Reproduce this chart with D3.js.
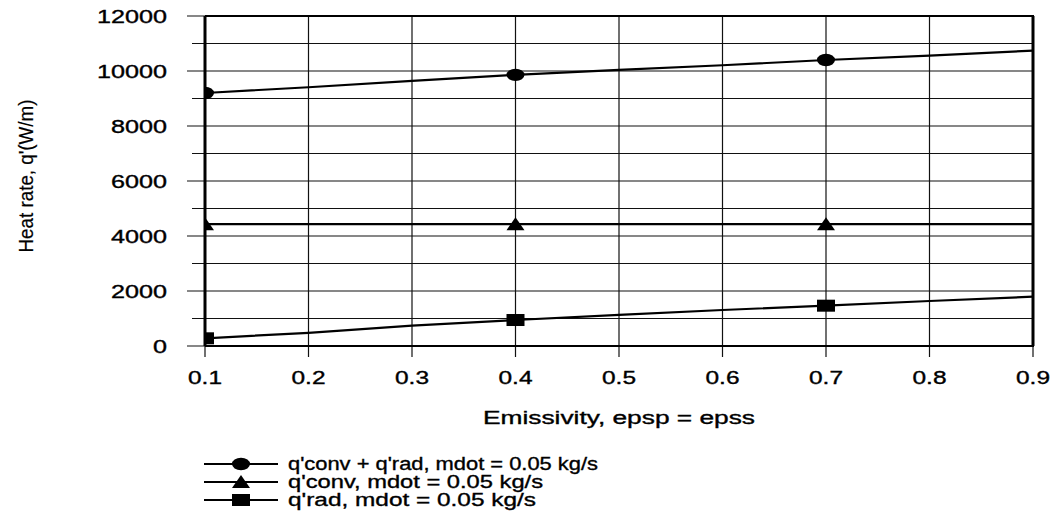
<!DOCTYPE html>
<html><head><meta charset="utf-8">
<script src="https://cdn.jsdelivr.net/npm/d3@7"></script>
<style>body{margin:0;background:#fff}svg{display:block}text{font-family:"Liberation Sans",Arial,sans-serif;fill:#000;stroke:#000;stroke-width:0.35px}</style>
</head><body><div id="chart"></div>
<script>
const xValues = [0.1,0.2,0.3,0.4,0.5,0.6,0.7,0.8,0.9];
const markerX = [0.1,0.4,0.7];
const seriesNames = ["q'conv + q'rad, mdot = 0.05 kg/s","q'conv, mdot = 0.05 kg/s","q'rad, mdot = 0.05 kg/s"];
const qTotal = [9200,9410,9640,9860,10040,10210,10400,10560,10740];
const qConv  = [4430,4430,4430,4430,4430,4430,4430,4430,4430];
const qRad   = [280,480,740,945,1130,1310,1466,1636,1793];
const xTicks = [0.1,0.2,0.3,0.4,0.5,0.6,0.7,0.8,0.9];
const yTicks = [0,2000,4000,6000,8000,10000,12000];
const yMinor = [1000,3000,5000,7000,9000,11000];
const shapes = ["circle","triangle","square"];

const W=1057,H=515;
const L=205,R=1033,T=16,B=346;
const svg=d3.select("#chart").append("svg").attr("width",W).attr("height",H);
const x=d3.scaleLinear().domain([0.1,0.9]).range([L,R]);
const y=d3.scaleLinear().domain([0,12000]).range([B,T]);

svg.append("clipPath").attr("id","clip").append("rect").attr("x",L).attr("y",T-10).attr("width",R-L).attr("height",B-T+10);

// grid + ticks
const g=svg.append("g");
g.selectAll(".hg").data(yTicks).join("line").attr("x1",L-18).attr("x2",R).attr("y1",d=>y(d)).attr("y2",d=>y(d)).attr("stroke","#111").attr("stroke-width",1.2);
g.selectAll(".hm").data(yMinor).join("line").attr("x1",L-13).attr("x2",R).attr("y1",d=>y(d)).attr("y2",d=>y(d)).attr("stroke","#111").attr("stroke-width",1.2);
g.selectAll(".vg").data(xTicks).join("line").attr("x1",d=>x(d)).attr("x2",d=>x(d)).attr("y1",T).attr("y2",B+11).attr("stroke","#111").attr("stroke-width",1.2);
// frame
g.append("line").attr("x1",L).attr("x2",R+1).attr("y1",T).attr("y2",T).attr("stroke","#000").attr("stroke-width",2.2);
g.append("line").attr("x1",L).attr("x2",R+1).attr("y1",B).attr("y2",B).attr("stroke","#000").attr("stroke-width",2);
g.append("line").attr("x1",L).attr("x2",L).attr("y1",T).attr("y2",B).attr("stroke","#000").attr("stroke-width",3);
g.append("line").attr("x1",R).attr("x2",R).attr("y1",T).attr("y2",B).attr("stroke","#000").attr("stroke-width",3);

// tick labels
svg.selectAll(".yl").data(yTicks).join("text").attr("x",167).attr("y",d=>y(d)+6.5).attr("text-anchor","end")
  .attr("font-size",18).attr("textLength",d=>String(d).length*14).attr("lengthAdjust","spacingAndGlyphs").text(d=>d);
svg.selectAll(".xl").data(xTicks).join("text").attr("x",d=>x(d)).attr("y",383.5).attr("text-anchor","middle")
  .attr("font-size",18).attr("textLength",34).attr("lengthAdjust","spacingAndGlyphs").text(d=>d.toFixed(1));

// titles
svg.append("text").attr("transform","translate(33,176) rotate(-90)").attr("text-anchor","middle").attr("font-size",20)
  .attr("textLength",153).attr("lengthAdjust","spacingAndGlyphs").style("stroke-width","0.2px").text("Heat rate, q'(W/m)");
svg.append("text").attr("x",619).attr("y",423.5).attr("text-anchor","middle").attr("font-size",18)
  .attr("textLength",272).attr("lengthAdjust","spacingAndGlyphs").text("Emissivity, epsp = epss");

// marker drawing
function marker(sel,shape,cx,cy){
  if(shape==="circle") sel.append("ellipse").attr("cx",cx).attr("cy",cy).attr("rx",9).attr("ry",6.2).attr("fill","#000");
  else if(shape==="triangle") sel.append("path").attr("d",`M${cx-9},${cy+6}L${cx+9},${cy+6}L${cx},${cy-7}Z`).attr("fill","#000");
  else sel.append("rect").attr("x",cx-9).attr("y",cy-6).attr("width",18).attr("height",12).attr("fill","#000");
}

const series=[qTotal,qConv,qRad];
const line=d3.line().x((d,i)=>x(xValues[i])).y(d=>y(d));
const pg=svg.append("g").attr("clip-path","url(#clip)");
series.forEach((s,k)=>{
  pg.append("path").attr("d",line(s)).attr("fill","none").attr("stroke","#000").attr("stroke-width",2.2);
  markerX.forEach(mx=>{const i=xValues.indexOf(mx); marker(pg,shapes[k],x(mx),y(s[i]));});
});

// legend
const legY=[464,482,500];
const legLen=[310,255,248];
seriesNames.forEach((n,k)=>{
  const lg=svg.append("g");
  lg.append("line").attr("x1",204).attr("x2",278).attr("y1",legY[k]).attr("y2",legY[k]).attr("stroke","#000").attr("stroke-width",2.2);
  marker(lg,shapes[k],241,legY[k]);
  lg.append("text").attr("x",288).attr("y",legY[k]+6).attr("font-size",18).attr("textLength",legLen[k]).attr("lengthAdjust","spacingAndGlyphs").text(n);
});
</script></body></html>
